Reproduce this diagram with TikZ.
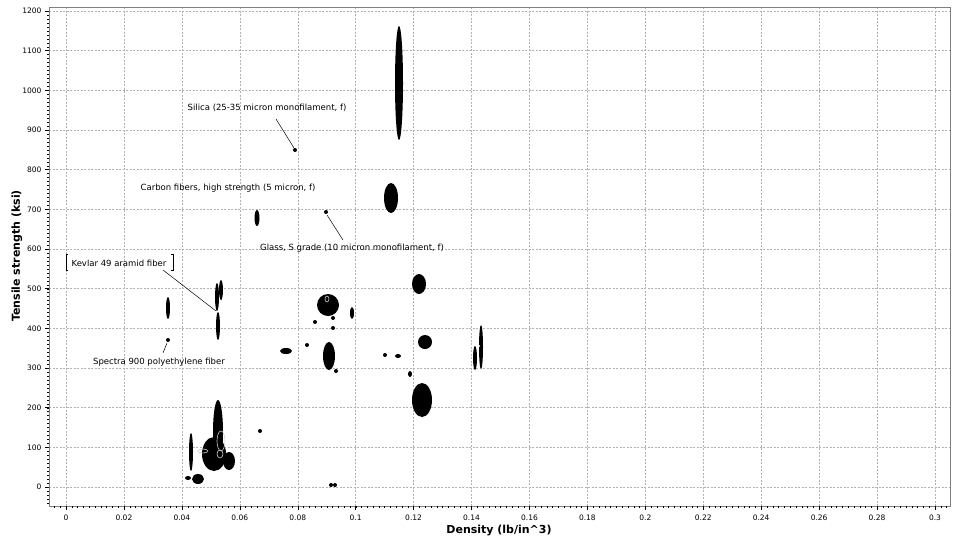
\documentclass[tikz,border=0pt]{standalone}
\usepackage{fontspec}
\setmainfont{DejaVu Sans}
\begin{document}
\begin{tikzpicture}[x=1pt,y=-1pt,
  blob/.style={fill=black},
  ring/.style={draw=white!80!black,line width=0.6pt},
  tick/.style={font=\fontsize{7.5}{8}\selectfont},
  note/.style={font=\fontsize{8.5}{9}\selectfont,inner sep=1pt},
  lead/.style={draw=black,line width=0.5pt},
  gridline/.style={gray!60,dash pattern=on 2pt off 1.5pt,line width=0.4pt}]
\useasboundingbox (0,0) rectangle (960,544);
% grid
\foreach \i in {0,...,15}
  \draw[gridline] ({66+\i*57.93},7) -- ({66+\i*57.93},506);
\foreach \j in {0,...,12}
  \draw[gridline] (49,{487-\j*39.67}) -- (950,{487-\j*39.67});
\draw[gray,line width=0.6pt] (49,7) rectangle (950,506);
% ticks and labels
\foreach \i/\lab in {0/0,1/0.02,2/0.04,3/0.06,4/0.08,5/0.1,6/0.12,7/0.14,8/0.16,9/0.18,10/0.2,11/0.22,12/0.24,13/0.26,14/0.28,15/0.3}
  \draw ({66+\i*57.93},506) -- ++(0,4) node[tick,below=1pt] {\lab};
\foreach \k in {-2,...,152}
  \draw[line width=0.3pt] ({66+\k*5.793},506) -- ++(0,2);
\foreach \j in {0,...,12}
  \draw (49,{487-\j*39.67}) -- ++(-4,0) node[tick,left=0pt] {\the\numexpr\j*100\relax};
\foreach \k in {-4,...,120}
  \draw[line width=0.3pt] (49,{487-\k*3.967}) -- ++(-2,0);
\node[font=\bfseries\fontsize{11}{12}\selectfont] (xlab) at (499,530) {Density (lb/in\^{}3)};
\node[font=\bfseries\fontsize{11}{12}\selectfont,rotate=90] (ylab) at (17,256) {Tensile strength (ksi)};
% data ellipses
\foreach \cx/\cy/\rx/\ry in {399/83/4/57, 391/198/7/15, 419/284/7/10, 422/400/10/17, 425/342/7/7,
  328/305/11/11, 352/313/2/6, 315/322/2/2, 333/318/2/2, 333/328/2/2, 329/356/6/14, 336/371/2/2,
  286/351/6/3, 307/345/2/2, 385/355/2/2, 398/356/3/2, 410/374/2/3, 475/358/2/12, 481/347/2/22,
  295/150/2/2, 257/218/2.5/8, 326/212/2/2, 218/326/2/14, 217/297/2/14, 221/290/2/10,
  168/308/2/11, 168/340/2/2, 191/452/2/19, 188/478/3/2, 198/479/6/5, 218/432/5/32,
  214/454/12/17, 229/461/6/9, 260/431/2/2, 331/485/2/2, 335/485/2/2}
  \fill[blob] (\cx,\cy) ellipse [x radius=\rx, y radius=\ry];
\draw[ring] (327,299) ellipse [x radius=2, y radius=3];
\draw[ring] (203,451) ellipse [x radius=5, y radius=2];
\draw[ring] (221,441) ellipse [x radius=4, y radius=10];
\draw[ring] (220,454) ellipse [x radius=3, y radius=4];
\fill[white] (479,346) circle (1.2);
% annotations
\node[note] (silica) at (267,108) {Silica (25-35 micron monofilament, f)};
\coordinate (silicapt) at (294,148);
\draw[lead] (276,119) -- (silicapt);
\node[note] (carbon) at (228,188) {Carbon fibers, high strength (5 micron, f)};
\node[note] (glass) at (352,248) {Glass, S grade (10 micron monofilament, f)};
\coordinate (glasspt) at (327,215);
\draw[lead] (glasspt) -- (343,240);
\node[note] (kevlar) at (119,263) {Kevlar 49 aramid fiber};
\draw[line width=0.5pt] (68,254) -- ++(-2,0) -- ++(0,16) -- ++(2,0)
  (171,254) -- ++(2,0) -- ++(0,16) -- ++(-2,0);
\coordinate (kevlarpt) at (216,311);
\draw[lead] (163,270) -- (kevlarpt);
\node[note] (spectra) at (159,362) {Spectra 900 polyethylene fiber};
\coordinate (spectrapt) at (167,343);
\draw[lead] (163,353) -- (spectrapt);
\end{tikzpicture}
\end{document}
